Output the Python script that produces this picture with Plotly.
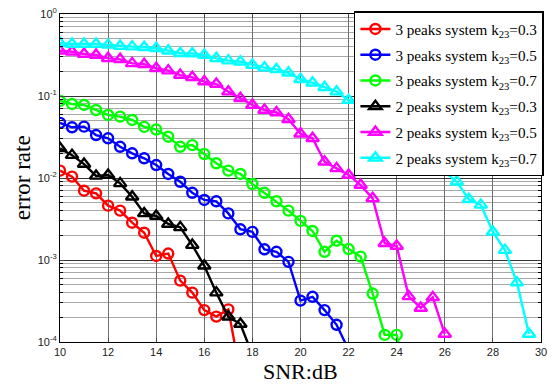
import plotly.graph_objects as go

snr = [10 + 0.5 * i for i in range(40)]

red_03 = [0.0123, 0.0104, 0.0070, 0.0065, 0.0046, 0.0040, 0.00285, 0.00215, 0.00112, 0.0012,
          0.00056, 0.0004, 0.000245, 0.000204, 0.00025, 0.00004]
blue_05 = [0.047, 0.0415, 0.0423, 0.0334, 0.0305, 0.024, 0.020, 0.0174, 0.0144, 0.0112,
           0.009, 0.0066, 0.0054, 0.0052, 0.0037, 0.00237, 0.0022, 0.00135, 0.00126, 0.00095,
           0.00032, 0.000356, 0.000245, 0.000162, 0.00008]
green_07 = [0.087, 0.080, 0.0777, 0.0675, 0.0587, 0.056, 0.051, 0.042, 0.039, 0.0319,
            0.024, 0.0252, 0.0196, 0.0151, 0.0123, 0.0112, 0.00845, 0.0066, 0.0052, 0.0040,
            0.0030, 0.00226, 0.00126, 0.00172, 0.00136, 0.0011, 0.00039, 0.000122, 0.000122, 0.00003]
black_03 = [0.023, 0.019, 0.0148, 0.0106, 0.0109, 0.0086, 0.0059, 0.0037, 0.00344, 0.00275,
            0.0025, 0.00152, 0.00085, 0.0004, 0.000203, 0.000166, 0.00007]
magenta_05 = [0.357, 0.347, 0.325, 0.316, 0.288, 0.28, 0.25, 0.244, 0.218, 0.204,
              0.18, 0.169, 0.15, 0.14, 0.113, 0.094, 0.0777, 0.0675, 0.063, 0.052,
              0.0346, 0.0305, 0.0158, 0.0131, 0.0109, 0.0082, 0.00565, 0.0016, 0.00148, 0.00036,
              0.00026, 0.00035, 0.000125]
cyan_07 = [0.44, 0.43, 0.43, 0.43, 0.42, 0.407, 0.40, 0.393, 0.382, 0.357,
           0.332, 0.33, 0.316, 0.288, 0.27, 0.262, 0.239, 0.222, 0.211, 0.192,
           0.16, 0.145, 0.128, 0.113, 0.089, 0.075, 0.062, 0.05, 0.041, 0.031,
           0.024, 0.017, 0.0119, 0.009, 0.0055, 0.0047, 0.0022, 0.00132, 0.00053, 0.000125]

series = [
    ("3 peaks system k<sub>23</sub>=0.3", red_03, "#ff0000", "circle-open", 10),
    ("3 peaks system k<sub>23</sub>=0.5", blue_05, "#0000ff", "circle-open", 10),
    ("3 peaks system k<sub>23</sub>=0.7", green_07, "#00ff00", "circle-open", 10),
    ("2 peaks system k<sub>23</sub>=0.3", black_03, "#000000", "triangle-up-open", 11),
    ("2 peaks system k<sub>23</sub>=0.5", magenta_05, "#ff00ff", "triangle-up-open", 11),
    ("2 peaks system k<sub>23</sub>=0.7", cyan_07, "#00ffff", "triangle-up-open", 11),
]

x_ticks = [10, 12, 14, 16, 18, 20, 22, 24, 26, 28, 30]
y_ticks = [1e-4, 1e-3, 1e-2, 1e-1, 1]
y_ticktext = ["10<sup>-4</sup>", "10<sup>-3</sup>", "10<sup>-2</sup>", "10<sup>-1</sup>", "10<sup>0</sup>"]
y_minor = [m * 10.0 ** e for e in range(-4, 0) for m in range(2, 10)]

serif = "Liberation Serif, Times New Roman, serif"

fig = go.Figure()
for i, (name, vals, color, sym, msize) in enumerate(series):
    fig.add_trace(go.Scatter(
        x=snr[:len(vals)], y=vals, name=name, mode="lines+markers",
        legendgroup="g%d" % i,
        line=dict(color=color, width=2.4),
        marker=dict(symbol=sym, size=msize, color=color, line=dict(width=2.4, color=color)),
    ))

fig.update_layout(
    width=552, height=385,
    margin=dict(l=60, r=8, t=14, b=43),
    paper_bgcolor="white", plot_bgcolor="white",
    font=dict(family="Liberation Sans, Arial", size=11, color="#222"),
    showlegend=True,
    legend=dict(
        x=1.006, y=1.009, xanchor="right", yanchor="top",
        bgcolor="white", bordercolor="black", borderwidth=1.5,
        font=dict(family=serif, size=15.2, color="black"),
        tracegroupgap=3, itemwidth=30,
    ),
    xaxis=dict(
        range=[10, 30], tickvals=x_ticks, ticks="inside", ticklen=4,
        showline=True, linecolor="black", linewidth=1, mirror="ticks",
        showgrid=True, gridcolor="#6e6e6e", gridwidth=1, zeroline=False,
        automargin=False,
    ),
    yaxis=dict(
        type="log", range=[-4, 0], tickvals=y_ticks, ticktext=y_ticktext,
        ticks="inside", ticklen=4,
        showline=True, linecolor="black", linewidth=1, mirror="ticks",
        showgrid=True, gridcolor="#333333", gridwidth=1, zeroline=False,
        minor=dict(tickmode="array", tickvals=y_minor, showgrid=True, gridcolor="#a8a8a8",
                   gridwidth=1, ticks="inside", ticklen=3, tickcolor="black"),
        automargin=False,
    ),
    annotations=[
        dict(text="SNR:dB", xref="paper", yref="paper", x=0.5, y=-0.09,
             xanchor="center", yanchor="middle", showarrow=False,
             font=dict(family=serif, size=22, color="black")),
        dict(text="error rate", xref="paper", yref="paper", x=-0.0785, y=0.5,
             xanchor="center", yanchor="middle", showarrow=False, textangle=-90,
             font=dict(family=serif, size=23, color="black")),
    ],
)

fig.write_html("out.html", config={"displayModeBar": False},
               post_script="document.body.style.margin='0';document.body.style.overflow='hidden';")
